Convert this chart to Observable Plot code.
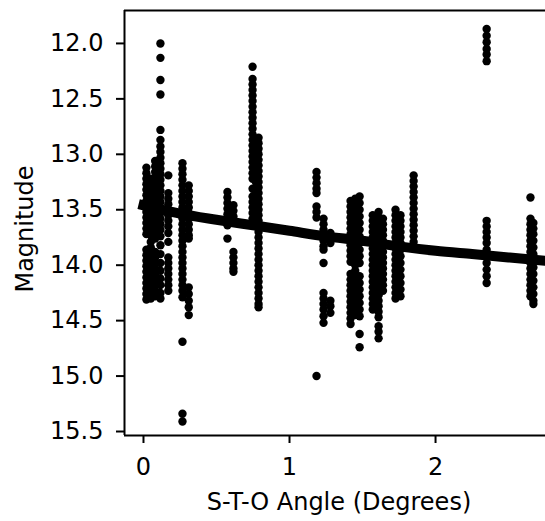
<!DOCTYPE html>
<html>
<head>
<meta charset="utf-8">
<script src="https://cdn.jsdelivr.net/npm/d3@7"></script>
<script src="https://cdn.jsdelivr.net/npm/@observablehq/plot@0.6"></script>
<style>
  html, body { margin: 0; padding: 0; background: white; overflow: hidden; }
  #chart svg g[aria-label="x-axis tick"] path,
  #chart svg g[aria-label="y-axis tick"] path,
  #chart svg g[aria-label="x-axis"] line,
  #chart svg g[aria-label="y-axis"] line { stroke-width: 2px; }
</style>
</head>
<body>
<div id="chart"></div>
<script>
// S-T-O angle of each observation column (degrees)
const columnAngles = [0.02, 0.05, 0.08, 0.116, 0.17, 0.267, 0.31, 0.575, 0.616, 0.747, 0.77, 0.788,
  1.185, 1.233, 1.28, 1.418, 1.45, 1.48, 1.57, 1.61, 1.64, 1.726, 1.76, 1.85, 2.35, 2.65, 2.67];

// magnitudes observed in each column
const columnMagnitudes = [
  [13.12,13.17,13.22,13.27,13.32,13.37,13.42,13.47,13.52,13.57,13.62,13.67,13.72,13.86,13.91,13.96,14.01,14.06,14.11,14.16,14.21,14.26,14.31],
  [13.22,13.27,13.32,13.37,13.42,13.47,13.52,13.57,13.62,13.67,13.73,13.79,13.84,13.89,13.94,13.99,14.04,14.09,14.14,14.19,14.24,14.30],
  [13.06,13.11,13.16,13.21,13.26,13.31,13.36,13.41,13.46,13.51,13.56,13.61,13.66,13.71,13.76,13.88,13.93,13.98,14.03,14.08,14.13,14.18,14.23,14.28],
  [12.00,12.13,12.33,12.46,12.78,12.87,12.93,12.98,13.03,13.08,13.13,13.18,13.23,13.28,13.33,13.38,13.43,13.48,13.53,13.58,13.63,13.68,13.74,13.82,13.90,13.98,14.05,14.12,14.18,14.25,14.30],
  [13.19,13.35,13.40,13.45,13.50,13.55,13.60,13.65,13.71,13.79,13.93,13.98,14.03,14.08,14.13,14.18,14.23],
  [13.08,13.13,13.18,13.23,13.28,13.33,13.38,13.43,13.48,13.53,13.58,13.63,13.68,13.73,13.78,13.83,13.88,13.93,13.98,14.03,14.08,14.13,14.18,14.23,14.29,14.69,15.34,15.41],
  [13.28,13.33,13.38,13.43,13.48,13.53,13.58,13.63,13.68,13.73,13.76,14.20,14.26,14.32,14.38,14.45],
  [13.34,13.39,13.44,13.49,13.54,13.59,13.64,13.76],
  [13.46,13.51,13.56,13.60,13.88,13.93,13.98,14.03,14.06],
  [12.21,12.32,12.37,12.42,12.47,12.52,12.57,12.62,12.67,12.72,12.77,12.82,12.87,12.92,12.97,13.02,13.07,13.12,13.17,13.22,13.31,13.38,13.43,13.48,13.53,13.58],
  [12.95,13.00,13.05,13.10,13.15,13.20,13.25,13.30,13.35,13.40,13.45,13.50,13.55],
  [12.85,12.90,12.95,13.00,13.05,13.10,13.15,13.20,13.25,13.30,13.35,13.40,13.45,13.50,13.55,13.60,13.65,13.70,13.75,13.80,13.85,13.90,13.95,14.00,14.05,14.10,14.15,14.20,14.25,14.30,14.35,14.38],
  [13.16,13.21,13.26,13.31,13.35,13.47,13.52,13.57,15.00],
  [13.58,13.63,13.68,13.73,13.78,13.83,13.86,13.98,14.25,14.30,14.35,14.40,14.46,14.52],
  [13.71,13.76,13.80,14.32,14.37,14.43],
  [13.42,13.47,13.52,13.57,13.62,13.67,13.72,13.77,13.82,13.87,13.92,13.97,14.08,14.13,14.18,14.23,14.28,14.33,14.38,14.43,14.48,14.53],
  [13.40,13.45,13.50,13.55,13.60,13.65,13.70,13.75,13.80,13.85,13.90,13.95,14.00,14.05,14.10,14.15,14.20,14.25,14.30,14.35,14.40,14.45],
  [13.38,13.44,13.50,13.56,13.62,13.68,13.74,13.80,13.86,13.92,13.98,14.10,14.16,14.22,14.28,14.34,14.40,14.46,14.62,14.74],
  [13.55,13.60,13.65,13.70,13.75,13.80,13.85,13.90,13.95,14.00,14.05,14.10,14.15,14.20,14.25,14.30,14.35,14.40],
  [13.52,13.57,13.62,13.67,13.72,13.77,13.82,13.87,13.92,13.97,14.02,14.07,14.12,14.17,14.22,14.27,14.32,14.37,14.42,14.47,14.55,14.60,14.66],
  [13.58,13.63,13.68,13.73,13.78,13.83,13.88,13.93,13.98,14.03,14.08,14.13,14.18,14.23],
  [13.50,13.55,13.60,13.65,13.70,13.75,13.80,13.85,13.90,13.95,14.00,14.05,14.10,14.15,14.20,14.25,14.30],
  [13.55,13.60,13.65,13.70,13.75,13.80,13.86,13.92,13.98,14.04,14.10,14.16,14.22,14.28],
  [13.19,13.24,13.29,13.34,13.39,13.44,13.49,13.54,13.59,13.64,13.69,13.74,13.79,13.84],
  [11.87,11.93,11.99,12.05,12.10,12.16,13.60,13.65,13.70,13.75,13.80,13.86,13.92,13.98,14.04,14.10,14.16],
  [13.39,13.58,13.63,13.68,13.73,13.78,13.83,13.88,13.93,13.98,14.03,14.08,14.13,14.18,14.23,14.28],
  [13.62,13.67,13.72,13.78,13.84,13.90,13.96,14.02,14.08,14.14,14.20,14.26,14.32,14.35]
];

// fitted phase curve
const fitAngles = [0, 0.25, 0.5, 0.75, 1.0, 1.25, 1.5, 1.75, 2.0, 2.25, 2.5, 2.75];
const fitMagnitudes = [13.46, 13.535, 13.59, 13.64, 13.69, 13.74, 13.78, 13.83, 13.87, 13.90, 13.93, 13.96];

const xTicks = [0, 1, 2];
const yTicks = [12.0, 12.5, 13.0, 13.5, 14.0, 14.5, 15.0, 15.5];
const xDomain = [-0.130, 2.753];
const yDomain = [11.703, 15.536];
const xLabel = "S-T-O Angle (Degrees)";
const yLabel = "Magnitude";

const points = columnAngles.flatMap((a, i) => columnMagnitudes[i].map(m => ({angle: a, magnitude: m})));
const fit = fitAngles.map((a, i) => ({angle: a, magnitude: fitMagnitudes[i]}));

const chart = Plot.plot({
  width: 545,
  height: 521,
  marginLeft: 124,
  marginRight: 0,
  marginTop: 10,
  marginBottom: 86,
  style: {fontFamily: "DejaVu Sans", fontSize: "24px", background: "white", color: "black"},
  x: {domain: xDomain, ticks: xTicks, tickFormat: d3.format("d"), tickSize: 8, tickPadding: 14, label: null},
  y: {domain: yDomain, reverse: true, ticks: yTicks, tickFormat: d3.format(".1f"), tickSize: 8, tickPadding: 13, label: null},
  marks: [
    Plot.dot(points, {x: "angle", y: "magnitude", r: 4.2, fill: "black", stroke: "none"}),
    Plot.line(fit, {x: "angle", y: "magnitude", stroke: "black", strokeWidth: 10, strokeLinecap: "square", curve: "monotone-x"}),
    Plot.ruleX([xDomain[0]], {stroke: "black", strokeWidth: 2}),
    Plot.ruleY([yDomain[0]], {stroke: "black", strokeWidth: 2}),
    Plot.ruleY([yDomain[1]], {stroke: "black", strokeWidth: 2}),
    Plot.text([yLabel], {frameAnchor: "left", dx: -99, dy: 6, rotate: -90, textAnchor: "middle", lineAnchor: "middle", fontSize: 24, fill: "black"}),
    Plot.text([xLabel], {frameAnchor: "bottom", dx: 4, dy: 67, textAnchor: "middle", lineAnchor: "middle", fontSize: 24, fill: "black"})
  ]
});
document.getElementById("chart").appendChild(chart);
</script>
</body>
</html>
